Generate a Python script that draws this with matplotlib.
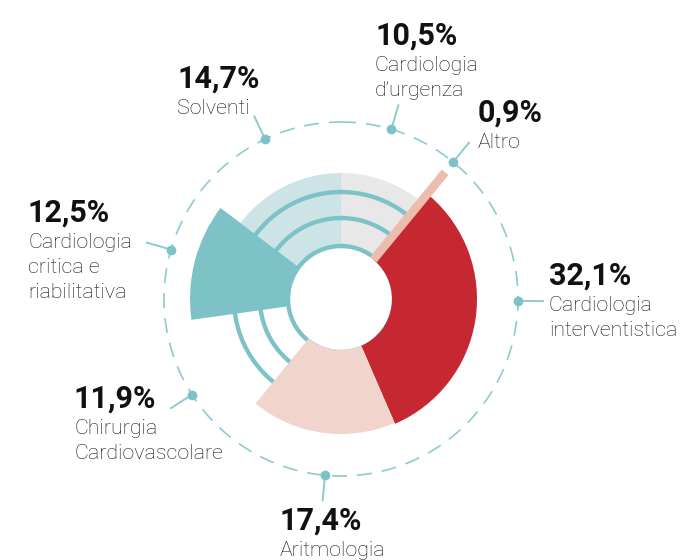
import numpy as np
import matplotlib.pyplot as plt

# ripartizione per area clinica, in senso orario partendo dall'alto
categorie = ["Cardiologia\nd’urgenza", "Altro", "Cardiologia\ninterventistica",
             "Aritmologia", "Chirurgia\nCardiovascolare",
             "Cardiologia\ncritica e\nriabilitativa", "Solventi"]
quote = [10.5, 0.9, 32.1, 17.4, 11.9, 12.5, 14.7]

# raggio esterno di ogni settore (px) e colori
raggi = [126, 164, 136, 135, 0, 151, 126]
colori = ["#e8e8e8", "#ecbcad", "#c62832", "#f1d4cb", "none", "#7cc2c7", "#cde4e7"]
TEAL = "#7cc2c7"
R_BUCO = 51
ANELLI = [53, 81, 107]
R_CERCHIO = 177

# posizione dei pallini sul cerchio tratteggiato (gradi) e delle etichette (px)
ang_pallini = [16.5, 39.3, 90.6, 185.2, 237.3, 286.2, 334.6]
pos_etichette = [(375, 45), (478, 122), (549, 285), (280, 530),
                 (74, 408), (28, 222), (177, 88)]

W, H = 684, 560
fig = plt.figure(figsize=(W / 100, H / 100), dpi=100)
ax = fig.add_axes([131 / W, 51 / H, 420 / W, 420 / H], projection="polar")
ax.set_theta_zero_location("N")
ax.set_theta_direction(-1)
ax.set_ylim(0, 210)
ax.set_axis_off()

gradi = np.array(quote) * 3.6
inizi = np.concatenate([[0], np.cumsum(gradi)[:-1]])

# settori
for i in range(len(quote)):
    if colori[i] == "none":
        continue
    if categorie[i] == "Altro":
        t = np.radians(inizi[i] + gradi[i] / 2)
        ax.plot([t, t], [R_BUCO, raggi[i]], color=colori[i], lw=6.2,
                solid_capstyle="butt", zorder=3)
        continue
    z = 0.5 if raggi[i] < 130 else 2
    ax.bar(np.radians(inizi[i]), raggi[i] - R_BUCO, width=np.radians(gradi[i]),
           bottom=R_BUCO, align="edge", color=colori[i], linewidth=0, zorder=z)

# anelli concentrici
tt = np.linspace(0, 2 * np.pi, 400)
for r in ANELLI:
    ax.plot(tt, np.full_like(tt, r), color=TEAL, lw=3.1, zorder=1)

# cerchio tratteggiato esterno
ax.plot(tt, np.full_like(tt, R_CERCHIO), color="#8ccbcf", lw=1.2,
        dashes=(9, 6), zorder=1)

# pallini e linee di richiamo
for a in ang_pallini:
    t = np.radians(a)
    ax.plot([t, t], [R_CERCHIO, R_CERCHIO + 25], color="#8ccbcf", lw=1.4,
            clip_on=False, zorder=1)
    ax.plot(t, R_CERCHIO, "o", ms=7, color=TEAL, mec="none", clip_on=False, zorder=4)

# etichette
for i, (x, y) in enumerate(pos_etichette):
    perc = f"{quote[i]:.1f}".replace(".", ",") + "%"
    fig.text(x / W, 1 - y / H, perc, family="Roboto", weight="bold",
             fontsize=22, color="#111111", va="baseline", ha="left")
    for k, riga in enumerate(categorie[i].split("\n")):
        yy = y + 26 + 25 * k
        fig.text(x / W, 1 - yy / H, riga, family="Roboto", weight="light",
                 fontsize=15.4, color="#141414", va="baseline", ha="left")

fig.savefig("out.png", dpi=100, facecolor="white")
